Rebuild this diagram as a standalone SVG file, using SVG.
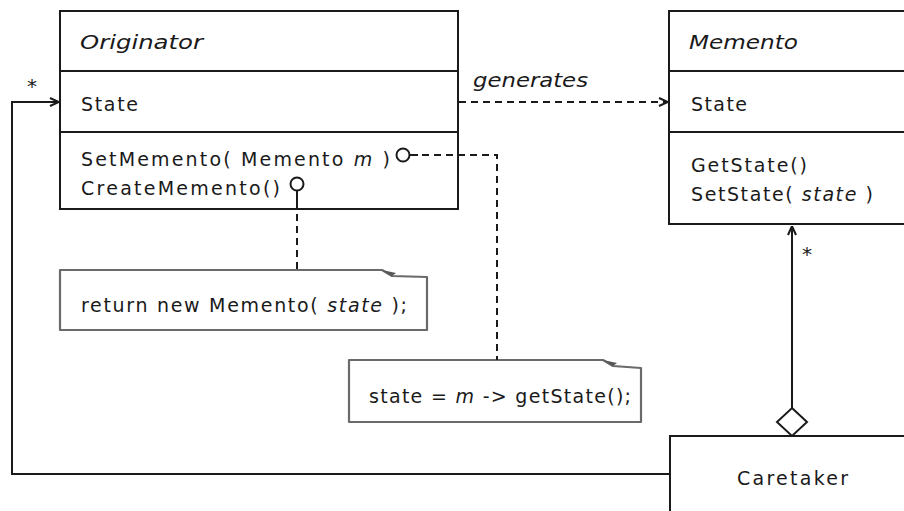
<svg xmlns="http://www.w3.org/2000/svg" width="904" height="511" viewBox="0 0 904 511">
  <style>
    .box { fill: #ffffff; stroke: #1a1a1a; stroke-width: 2; }
    .div { stroke: #1a1a1a; stroke-width: 2; }
    .note { fill: #ffffff; stroke: #6a6a6a; stroke-width: 2.2; stroke-linejoin: round; }
    .fold { fill: #555555; stroke: none; }
    .t { font-family: "DejaVu Sans", "Liberation Sans", sans-serif; font-size: 19px; fill: #1a1a1a; }
    .i { font-style: italic; }
    .star { font-family: "DejaVu Sans", sans-serif; font-size: 20px; fill: #1a1a1a; }
    .line { fill: none; stroke: #1a1a1a; stroke-width: 2; }
    .dash { fill: none; stroke: #1a1a1a; stroke-width: 2; stroke-dasharray: 7 5; }
    .pin { fill: #ffffff; stroke: #1a1a1a; stroke-width: 2; }
  </style>
  <defs>
    <marker id="arrow" viewBox="0 0 10 10" refX="10" refY="5" markerWidth="10" markerHeight="10" markerUnits="userSpaceOnUse" orient="auto">
      <path d="M1,1 L10,5 L1,9" fill="none" stroke="#1a1a1a" stroke-width="2"/>
    </marker>
  </defs>

  <rect width="904" height="511" fill="#ffffff"/>

  <!-- Originator class -->
  <g id="originator">
    <rect class="box" x="60" y="11" width="398" height="198"/>
    <line class="div" x1="60" y1="71" x2="458" y2="71"/>
    <line class="div" x1="60" y1="132" x2="458" y2="132"/>
    <text class="t i" x="80" y="49" textLength="123" lengthAdjust="spacingAndGlyphs">Originator</text>
    <text class="t" x="81" y="111" textLength="57" lengthAdjust="spacing">State</text>
    <text class="t" x="81" y="166" textLength="309" lengthAdjust="spacing">SetMemento( Memento <tspan class="i">m</tspan> )</text>
    <text class="t" x="81" y="195" textLength="199" lengthAdjust="spacing">CreateMemento()</text>
  </g>

  <!-- Memento class -->
  <g id="memento">
    <rect class="box" x="669" y="11" width="250" height="213"/>
    <line class="div" x1="669" y1="71" x2="904" y2="71"/>
    <line class="div" x1="669" y1="132" x2="904" y2="132"/>
    <text class="t i" x="689" y="49" textLength="109" lengthAdjust="spacingAndGlyphs">Memento</text>
    <text class="t" x="691" y="111" textLength="56" lengthAdjust="spacing">State</text>
    <text class="t" x="691" y="172" textLength="116" lengthAdjust="spacing">GetState()</text>
    <text class="t" x="691" y="201" textLength="182" lengthAdjust="spacing">SetState( <tspan class="i">state</tspan> )</text>
  </g>

  <!-- Caretaker class -->
  <g id="caretaker">
    <rect class="box" x="670" y="436" width="250" height="90"/>
    <text class="t" x="737" y="485" textLength="111" lengthAdjust="spacing">Caretaker</text>
  </g>

  <!-- note for CreateMemento -->
  <g id="note-create">
    <polygon class="note" points="60,270 382,270 392,276 427,277 427,330 60,330"/>
    <polygon class="fold" points="382,270 392,276 396,273"/>
    <text class="t" x="81" y="312" textLength="326" lengthAdjust="spacing">return new Memento( <tspan class="i">state</tspan> );</text>
  </g>

  <!-- note for SetMemento -->
  <g id="note-set">
    <polygon class="note" points="349,360 603,360 613,366 641,368 641,422 349,422"/>
    <polygon class="fold" points="603,360 613,366 617,363"/>
    <text class="t" x="369" y="403" textLength="262" lengthAdjust="spacing"><tspan>state = </tspan><tspan class="i">m</tspan><tspan> -&gt; getState();</tspan></text>
  </g>

  <!-- connectors -->
  <g id="connectors">
    <!-- Caretaker keeps a reference back to the originator state -->
    <polyline class="line" points="670,474 12,474 12,102 59,102" marker-end="url(#arrow)"/>
    <text class="star" x="27" y="93">*</text>
    <!-- Originator generates Memento -->
    <line class="dash" x1="459" y1="102" x2="668" y2="102" marker-end="url(#arrow)"/>
    <text class="t i" x="473" y="87" textLength="115" lengthAdjust="spacingAndGlyphs">generates</text>
    <!-- Caretaker aggregates Mementos -->
    <line class="line" x1="792" y1="408" x2="792" y2="226" marker-end="url(#arrow)"/>
    <polygon class="pin" points="792,408 807,422 792,436 777,422"/>
    <text class="star" x="802" y="261">*</text>
    <!-- note attachment for SetMemento -->
    <circle class="pin" cx="403" cy="155" r="6.5"/>
    <line class="line" x1="409.5" y1="155" x2="418" y2="155"/>
    <polyline class="dash" points="422,155 497,155 497,360"/>
    <!-- note attachment for CreateMemento -->
    <circle class="pin" cx="297" cy="184" r="6.5"/>
    <line class="line" x1="297" y1="190.5" x2="297" y2="209"/>
    <line class="dash" x1="297" y1="214" x2="297" y2="270"/>
  </g>
</svg>
